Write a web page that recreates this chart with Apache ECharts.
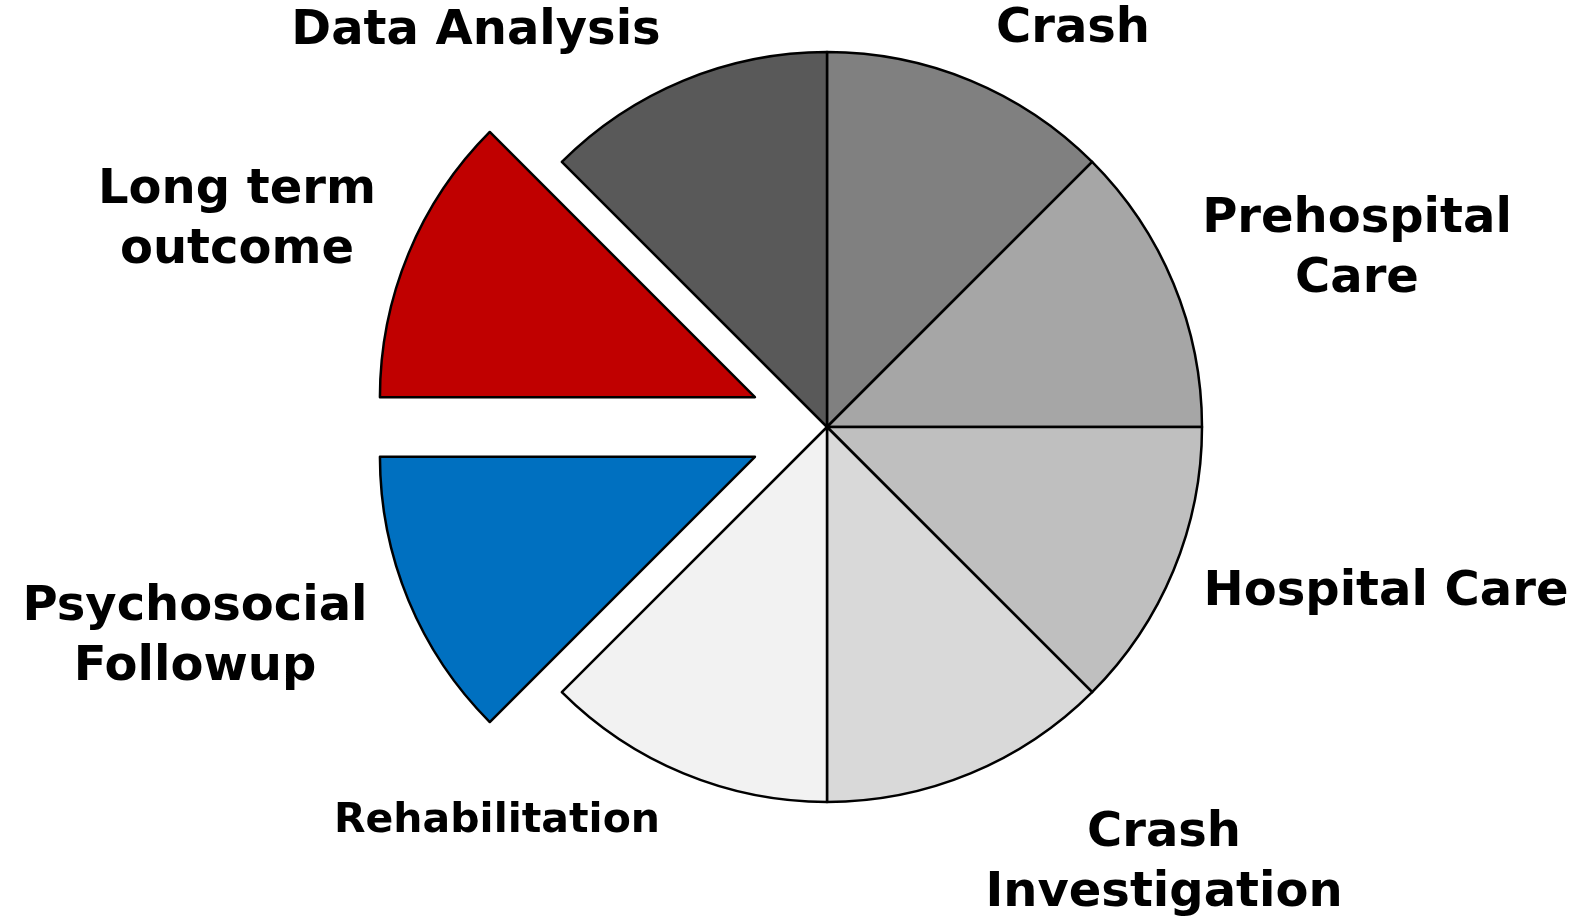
<!DOCTYPE html>
<html>
<head>
<meta charset="utf-8">
<script src="https://cdn.jsdelivr.net/npm/echarts@6/dist/echarts.min.js"></script>
<style>
  html, body { margin: 0; padding: 0; background: #fff; }
  #chart { width: 1581px; height: 922px; }
</style>
</head>
<body>
<div id="chart"></div>
<script>
// 8 equal steps of the care chain, clockwise from 12 o'clock
const categories = [
  'Crash',
  'Prehospital\nCare',
  'Hospital Care',
  'Crash\nInvestigation',
  'Rehabilitation',
  'Psychosocial\nFollowup',
  'Long term\noutcome',
  'Data Analysis'
]
const values = [12.5, 12.5, 12.5, 12.5, 12.5, 12.5, 12.5, 12.5]
const highlighted = [false, false, false, false, false, true, true, false]

// styling, kept apart from the data
const colors = ['#808080', '#a6a6a6', '#bfbfbf', '#d9d9d9', '#f2f2f2', '#0070c0', '#c00000', '#595959']
const labelSizes = [48, 48, 48, 48, 41, 48, 48, 48]
// label block centres (px)
const labelPos = [
  [1073, 30], [1357, 250], [1386, 593], [1164, 864],
  [497, 821], [195, 638], [237, 221], [476, 32]
]
const CX = 827
const CY = 427
const R = 375
const EXPLODE = 78
const BORDER = 2.5

const chart = echarts.init(document.getElementById('chart'))

const hidden = { color: 'rgba(0,0,0,0)', borderWidth: 0 }

// main ring: exploded slices left empty here, but their labels stay
const ringData = categories.map((name, i) => ({
  name: name,
  value: values[i],
  itemStyle: highlighted[i] ? hidden : { color: colors[i] },
  label: { fontSize: labelSizes[i] }
}))

const series = [
  {
    type: 'pie',
    center: [CX, CY],
    radius: R,
    startAngle: 90,
    clockwise: true,
    avoidLabelOverlap: false,
    itemStyle: { borderColor: '#000', borderWidth: BORDER },
    emphasis: { disabled: true },
    label: {
      show: true,
      position: 'outside',
      formatter: '{b}',
      color: '#000',
      fontFamily: 'DejaVu Sans',
      fontWeight: 'bold',
      fontSize: 48,
      lineHeight: 60,
      align: 'center'
    },
    labelLine: { show: false },
    labelLayout: (params) => {
      const p = labelPos[params.dataIndex]
      return { x: p[0], y: p[1], align: 'center', verticalAlign: 'middle', hideOverlap: false }
    },
    data: ringData
  }
]

// exploded slices: same ring, pushed out along the slice bisector
highlighted.forEach((on, k) => {
  if (!on) return
  const mid = (90 - (k + 0.5) * 360 / categories.length) * Math.PI / 180
  series.push({
    type: 'pie',
    silent: true,
    center: [CX + EXPLODE * Math.cos(mid), CY - EXPLODE * Math.sin(mid)],
    radius: R,
    startAngle: 90,
    clockwise: true,
    label: { show: false },
    labelLine: { show: false },
    emphasis: { disabled: true },
    data: categories.map((name, i) => ({
      name: name,
      value: values[i],
      itemStyle: i === k ? { color: colors[i], borderColor: '#000', borderWidth: BORDER } : hidden
    }))
  })
})

chart.setOption({ animation: false, series: series })
</script>
</body>
</html>
